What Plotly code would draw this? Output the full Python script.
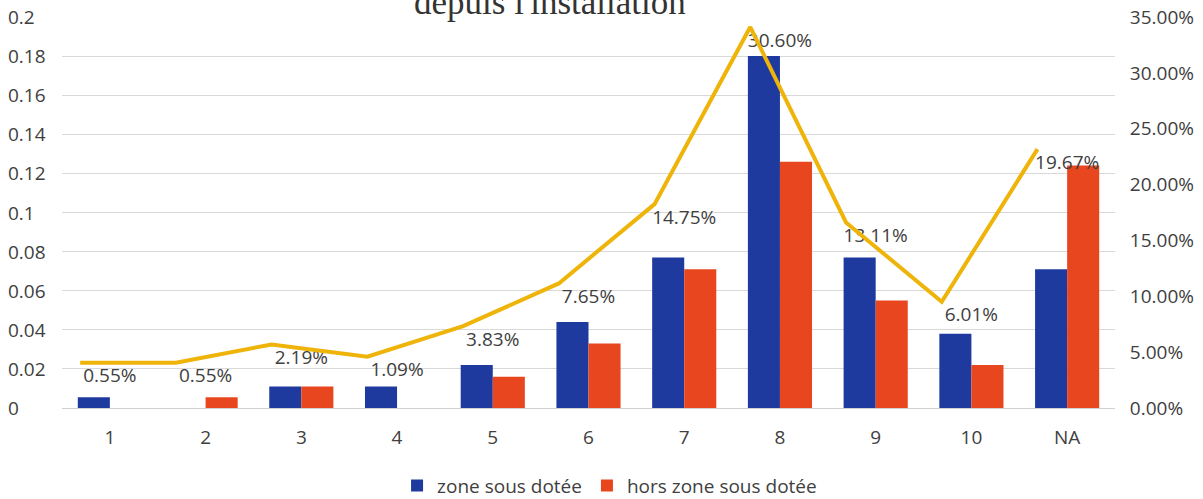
import plotly.graph_objects as go

# Categories and series
categories = ["1", "2", "3", "4", "5", "6", "7", "8", "9", "10", "NA"]
zone_sous_dotee = [0.0055, 0, 0.011, 0.011, 0.022, 0.044, 0.077, 0.18, 0.077, 0.038, 0.071]
hors_zone = [0, 0.0055, 0.011, 0, 0.016, 0.033, 0.071, 0.126, 0.055, 0.022, 0.124]
part_totale = [0.0055, 0.0055, 0.0219, 0.0109, 0.0383, 0.0765, 0.1475, 0.306, 0.1311, 0.0601, 0.1967]
left_ticks = [0, 0.02, 0.04, 0.06, 0.08, 0.1, 0.12, 0.14, 0.16, 0.18, 0.2]
left_tick_text = ["0", "0.02", "0.04", "0.06", "0.08", "0.1", "0.12", "0.14", "0.16", "0.18", "0.2"]

BLUE = "#1F3A9E"
ORANGE = "#E8461E"
GOLD = "#EEB409"
TEXT = "#404040"
FONT = "Open Sans"

fig = go.Figure()

fig.add_trace(go.Bar(x=categories, y=zone_sous_dotee, name="zone sous dotée",
                     marker=dict(color=BLUE, line=dict(width=0))))
fig.add_trace(go.Bar(x=categories, y=hors_zone, name="hors zone sous dotée",
                     marker=dict(color=ORANGE, line=dict(width=0))))

# Share line, drawn on its own overlay axes
fig.add_trace(go.Scatter(x=categories, y=part_totale, mode="lines",
                         line=dict(color=GOLD, width=4),
                         xaxis="x2", yaxis="y3", showlegend=False, hoverinfo="skip"))

# Percentage labels on the right-hand axis
fig.add_trace(go.Scatter(x=categories, y=part_totale, mode="markers+text",
                         marker=dict(size=22, color="rgba(0,0,0,0)"),
                         texttemplate="%{y:.2%}", textposition="top center",
                         textfont=dict(family=FONT, size=19, color=TEXT),
                         yaxis="y2", showlegend=False, cliponaxis=False))

# Left axis labels, left-aligned at the figure edge
annotations = [dict(x=0, xref="paper", y=v, yref="y", text=t, showarrow=False,
                    xanchor="left", yanchor="middle", xshift=-56,
                    font=dict(family=FONT, size=19, color=TEXT))
               for v, t in zip(left_ticks, left_tick_text)]

annotations.append(dict(x=0.4635, xref="paper", y=1, yref="paper",
                        text="depuis l'installation", showarrow=False,
                        xanchor="center", yanchor="bottom", yshift=-7,
                        font=dict(family="Liberation Serif", size=35, color="#333333")))

fig.update_layout(
    width=1203, height=499,
    margin=dict(l=62, r=88, t=17, b=91, autoexpand=False),
    paper_bgcolor="white", plot_bgcolor="white",
    barmode="group", bargap=0.33, bargroupgap=0,
    font=dict(family=FONT, size=19, color=TEXT),
    xaxis=dict(type="category", categoryorder="array", categoryarray=categories,
               range=[-0.5, 10.5], showgrid=False, showline=True, linecolor="#d0d0d0",
               linewidth=1, ticks="outside", ticklen=12, tickcolor="rgba(0,0,0,0)",
               tickfont=dict(family=FONT, size=19, color=TEXT), zeroline=False),
    xaxis2=dict(type="category", categoryorder="array", categoryarray=categories,
                overlaying="x", range=[-0.5 + 0.31, 10.5 + 0.31], visible=False),
    yaxis=dict(range=[0, 0.2], dtick=0.02, showgrid=True, gridcolor="#d9d9d9",
               gridwidth=1, showticklabels=False, zeroline=False),
    yaxis2=dict(range=[0, 0.35], dtick=0.05, tickformat=".2%", overlaying="y",
                side="right", showgrid=False, zeroline=False, ticks="outside",
                ticklen=10, tickcolor="rgba(0,0,0,0)",
                tickfont=dict(family=FONT, size=19, color=TEXT)),
    yaxis3=dict(range=[-0.035, 0.315], overlaying="y", visible=False),
    legend=dict(orientation="h", x=0.52, xanchor="center", y=-0.15, yanchor="top",
                font=dict(family=FONT, size=19, color=TEXT), traceorder="normal"),
    annotations=annotations,
    showlegend=True,
)

fig.write_html("out.html")
